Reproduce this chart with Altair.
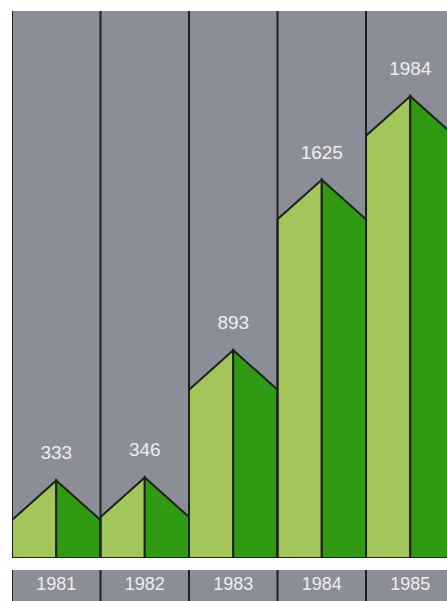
import altair as alt
import pandas as pd

years = ["1981", "1982", "1983", "1984", "1985"]
values = [333, 346, 893, 1625, 1984]
value_labels = ["333", "346", "893", "1625", "1984"]

ROOF = 170  # roof height in data units
GRAY = "#8b8e97"
LIGHT = "#a2c659"
DARK = "#2f9a12"
LINE = "#1b211b"
TXT = "#eeeeee"

rows = []
for i, v in enumerate(values):
    sh = v - ROOF
    rows += [
        {"id": f"{i}L", "half": "L", "x": i - 0.5, "y": sh},
        {"id": f"{i}L", "half": "L", "x": i, "y": v},
        {"id": f"{i}R", "half": "R", "x": i, "y": v},
        {"id": f"{i}R", "half": "R", "x": i + 0.5, "y": sh},
    ]
shapes = pd.DataFrame(rows)
labels = pd.DataFrame({"x": list(range(len(values))), "v": values,
                       "lab": value_labels, "year": years})
bounds = pd.DataFrame({"b": [i - 0.5 for i in range(len(values) + 1)]})

xs = alt.Scale(domain=[-0.5, 4.415], nice=False, zero=False)
ys = alt.Scale(domain=[0, 2350], nice=False)

area = alt.Chart(shapes).mark_area(stroke=LINE, strokeWidth=2, clip=True, opacity=1,
                                   orient="vertical").encode(
    x=alt.X("x:Q", scale=xs, axis=None),
    y=alt.Y("y:Q", scale=ys, axis=None, stack=None),
    color=alt.Color("half:N", scale=alt.Scale(domain=["L", "R"], range=[LIGHT, DARK]), legend=None),
    detail="id:N",
)
rules = alt.Chart(bounds).mark_rule(color=LINE, strokeWidth=2, clip=True).encode(
    x=alt.X("b:Q", scale=xs, axis=None)
)
vtext = alt.Chart(labels).mark_text(color=TXT, fontSize=19, font="Liberation Sans",
                                    dy=-27, baseline="middle").encode(
    x=alt.X("x:Q", scale=xs, axis=None),
    y=alt.Y("v:Q", scale=ys, axis=None),
    text="lab:N",
)
top = alt.layer(area, rules, vtext).properties(width=435, height=547)

brules = alt.Chart(bounds).mark_rule(color=LINE, strokeWidth=2, clip=True).encode(
    x=alt.X("b:Q", scale=xs, axis=None)
)
ytext = alt.Chart(labels).mark_text(color=TXT, fontSize=18, font="Liberation Sans",
                                    baseline="middle").encode(
    x=alt.X("x:Q", scale=xs, axis=None),
    y=alt.value(15),
    text="year:N",
)
bottom = alt.layer(brules, ytext).properties(width=435, height=31)

chart = alt.vconcat(top, bottom, spacing=12).properties(
    padding={"left": 12, "top": 11, "right": 0, "bottom": 0},
    background="white",
).configure_view(fill=GRAY, stroke=None)

chart.save("out.html", embed_options={"renderer": "svg", "actions": False})
